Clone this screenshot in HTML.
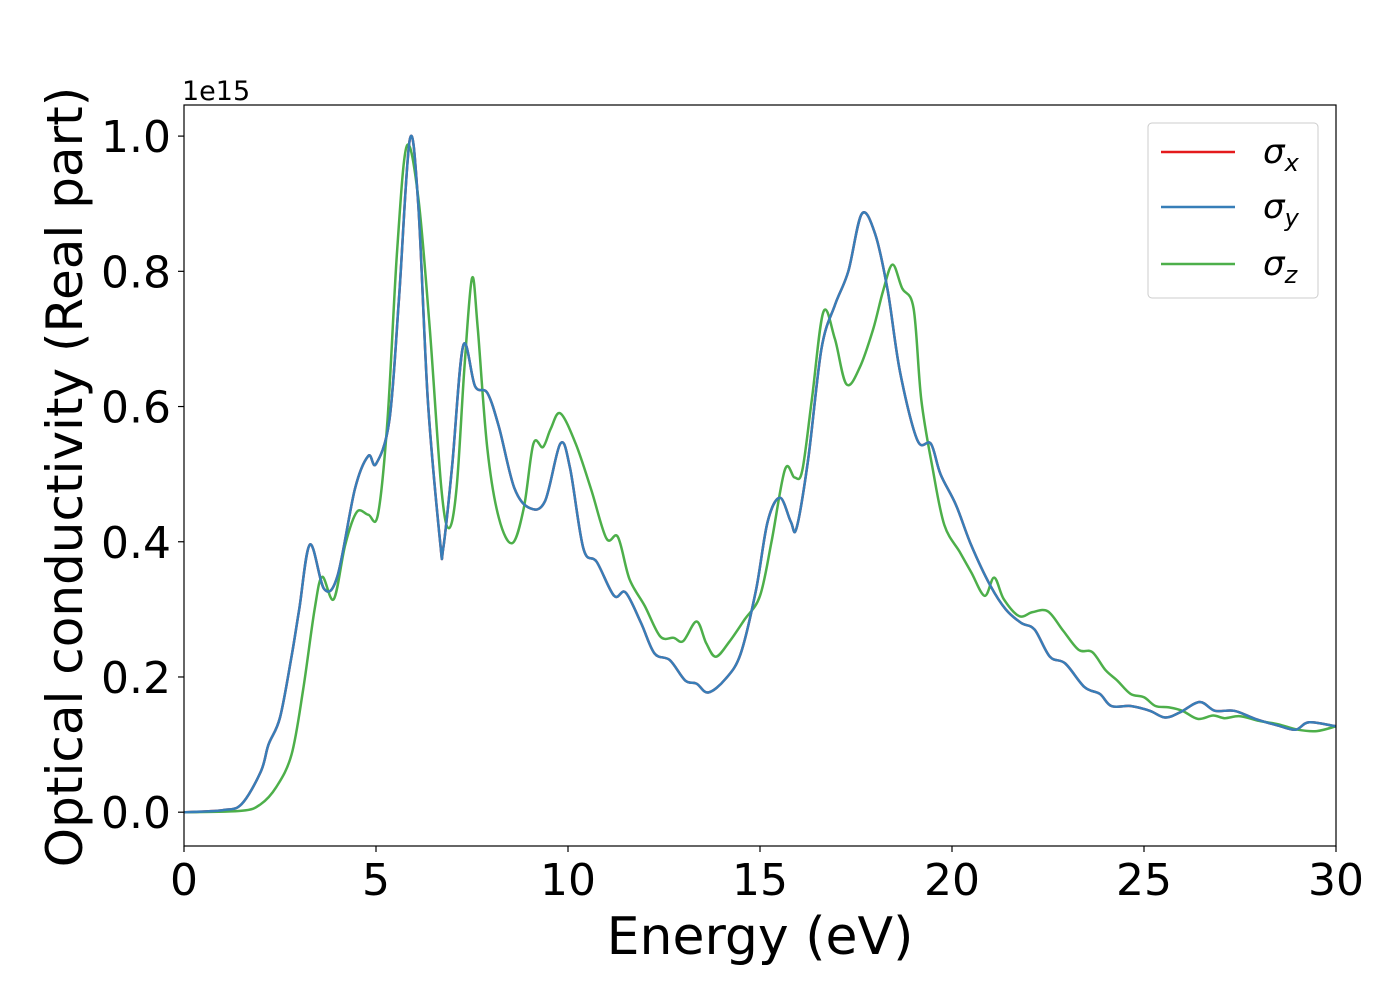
<!DOCTYPE html>
<html><head><meta charset="utf-8"><style>
html,body{margin:0;padding:0;background:#fff;}
svg{display:block;font-family:"DejaVu Sans","Liberation Sans",sans-serif;}
</style></head><body>
<svg id="chart" width="1400" height="1000" viewBox="0 0 1400 1000">
<rect x="0" y="0" width="1400" height="1000" fill="#fff"/>
<g id="plot"></g>
<g id="axes"></g>
<text x="182" y="100" font-size="27">1e15</text>
<text x="760" y="954" font-size="52" text-anchor="middle">Energy (eV)</text>
<text transform="translate(82,477) rotate(-90)" font-size="50" text-anchor="middle">Optical conductivity (Real part)</text>
<g>
<rect x="1148" y="123" width="170" height="175" rx="4" fill="#fff" stroke="#ccc" stroke-width="1"/>
<line x1="1161" y1="152" x2="1235" y2="152" stroke="#e41a1c" stroke-width="2.5"/>
<text x="1263" y="163" font-size="34" font-style="italic">σ<tspan font-size="24" dy="8">x</tspan></text>
<line x1="1161" y1="207" x2="1235" y2="207" stroke="#377eb8" stroke-width="2.5"/>
<text x="1263" y="218" font-size="34" font-style="italic">σ<tspan font-size="24" dy="8">y</tspan></text>
<line x1="1161" y1="264" x2="1235" y2="264" stroke="#4daf4a" stroke-width="2.5"/>
<text x="1263" y="275" font-size="34" font-style="italic">σ<tspan font-size="24" dy="8">z</tspan></text>
</g>
</svg>
<script>
const xTicks = [0,5,10,15,20,25,30];
const yTicks = [0.0,0.2,0.4,0.6,0.8,1.0];
const yTickLabels = ["0.0","0.2","0.4","0.6","0.8","1.0"];
const energyXY = [0,1,1.5,2,2.2,2.5,2.8,3.0,3.28,3.65,4.0,4.45,4.8,5.0,5.35,5.6,5.88,6.1,6.35,6.67,6.75,6.98,7.27,7.58,7.9,8.2,8.6,9.0,9.4,9.8,10.05,10.4,10.75,11.2,11.5,11.9,12.25,12.65,13.05,13.35,13.65,14.1,14.5,14.9,15.2,15.52,15.8,15.95,16.25,16.6,16.95,17.3,17.65,18.0,18.33,18.65,19.1,19.45,19.7,20.1,20.5,21.0,21.4,21.8,22.15,22.55,22.95,23.45,23.85,24.15,24.65,25.15,25.55,25.95,26.45,26.85,27.35,27.9,28.5,28.95,29.3,30];
const sigmaXY = [0,0.003,0.012,0.06,0.10,0.14,0.23,0.30,0.396,0.33,0.35,0.478,0.527,0.515,0.58,0.76,0.995,0.9,0.61,0.40,0.39,0.51,0.69,0.63,0.62,0.57,0.48,0.45,0.46,0.545,0.51,0.39,0.37,0.32,0.325,0.28,0.235,0.225,0.195,0.19,0.177,0.197,0.235,0.33,0.43,0.465,0.43,0.42,0.52,0.685,0.75,0.80,0.885,0.855,0.77,0.65,0.55,0.545,0.50,0.455,0.395,0.335,0.30,0.28,0.27,0.23,0.22,0.185,0.175,0.157,0.157,0.15,0.14,0.148,0.163,0.15,0.15,0.138,0.128,0.122,0.133,0.127];
const energyZ = [0,1.5,2,2.4,2.8,3.1,3.4,3.6,3.9,4.2,4.5,4.8,5.05,5.3,5.55,5.8,6.1,6.4,6.7,6.9,7.1,7.3,7.5,7.65,7.9,8.2,8.55,8.85,9.1,9.35,9.55,9.8,10.2,10.6,11.0,11.3,11.6,12.0,12.4,12.75,13.0,13.35,13.6,13.85,14.2,14.6,15.0,15.3,15.65,15.9,16.1,16.35,16.65,16.95,17.25,17.6,17.95,18.2,18.45,18.7,19.0,19.2,19.5,19.8,20.2,20.5,20.85,21.1,21.35,21.75,22.1,22.5,22.9,23.3,23.65,24.0,24.3,24.65,25.0,25.3,25.65,26.0,26.4,26.8,27.1,27.5,28.0,28.5,29.0,29.5,30];
const sigmaZ = [0,0.002,0.012,0.037,0.085,0.18,0.30,0.348,0.315,0.396,0.444,0.44,0.44,0.58,0.83,0.985,0.91,0.715,0.48,0.42,0.48,0.655,0.79,0.715,0.537,0.435,0.398,0.45,0.545,0.54,0.567,0.59,0.545,0.478,0.405,0.407,0.345,0.305,0.26,0.258,0.253,0.282,0.25,0.23,0.252,0.285,0.32,0.40,0.507,0.495,0.505,0.61,0.74,0.70,0.633,0.658,0.715,0.77,0.81,0.775,0.745,0.61,0.507,0.425,0.385,0.355,0.32,0.347,0.315,0.29,0.296,0.297,0.268,0.24,0.237,0.21,0.195,0.175,0.17,0.157,0.155,0.15,0.138,0.143,0.139,0.142,0.135,0.13,0.122,0.12,0.127];

const L=184,R=1336,T=105,B=846;
const xMin=0,xMax=30,yMin=-0.05,yMax=1.046;
function sx(v){return L+(v-xMin)/(xMax-xMin)*(R-L);}
function sy(v){return B-(v-yMin)/(yMax-yMin)*(B-T);}
const NS="http://www.w3.org/2000/svg";
function pathFor(xs,ys){
  const p=xs.map((x,i)=>[sx(x),sy(ys[i])]);
  let d="M"+p[0][0].toFixed(1)+","+p[0][1].toFixed(1);
  for(let i=0;i<p.length-1;i++){
    const p0=p[Math.max(0,i-1)],p1=p[i],p2=p[i+1],p3=p[Math.min(p.length-1,i+2)];
    const c1x=p1[0]+(p2[0]-p0[0])/6,c1y=p1[1]+(p2[1]-p0[1])/6;
    const c2x=p2[0]-(p3[0]-p1[0])/6,c2y=p2[1]-(p3[1]-p1[1])/6;
    d+=" C"+c1x.toFixed(1)+","+c1y.toFixed(1)+" "+c2x.toFixed(1)+","+c2y.toFixed(1)+" "+p2[0].toFixed(1)+","+p2[1].toFixed(1);
  }
  return d;
}
const plot=document.getElementById("plot");
const series=[["series-sigma-x",energyXY,sigmaXY,"#e41a1c"],["series-sigma-z",energyZ,sigmaZ,"#4daf4a"],["series-sigma-y",energyXY,sigmaXY,"#377eb8"]];
series.forEach(s=>{
  const el=document.createElementNS(NS,"path");
  el.setAttribute("d",pathFor(s[1],s[2]));
  el.setAttribute("fill","none");
  el.setAttribute("stroke",s[3]);
  el.setAttribute("stroke-width","2.5");
  el.setAttribute("stroke-linejoin","round");
  
  
  plot.appendChild(el);
});
const axes=document.getElementById("axes");
const frame=document.createElementNS(NS,"rect");
frame.setAttribute("x",L);frame.setAttribute("y",T);frame.setAttribute("width",R-L);frame.setAttribute("height",B-T);
frame.setAttribute("fill","none");frame.setAttribute("stroke","#000");frame.setAttribute("stroke-width","1.2");


axes.appendChild(frame);
xTicks.forEach(v=>{
  const t=document.createElementNS(NS,"line");
  t.setAttribute("x1",sx(v));t.setAttribute("x2",sx(v));t.setAttribute("y1",B);t.setAttribute("y2",B+6);
  t.setAttribute("stroke","#000");t.setAttribute("stroke-width","1.2");
  
  
  axes.appendChild(t);
  const tx=document.createElementNS(NS,"text");
  tx.setAttribute("x",sx(v));tx.setAttribute("y",B+49);tx.setAttribute("font-size","44");tx.setAttribute("text-anchor","middle");
  tx.textContent=String(v);
  
  
  axes.appendChild(tx);
});
yTicks.forEach((v,i)=>{
  const t=document.createElementNS(NS,"line");
  t.setAttribute("x1",L-6);t.setAttribute("x2",L);t.setAttribute("y1",sy(v));t.setAttribute("y2",sy(v));
  t.setAttribute("stroke","#000");t.setAttribute("stroke-width","1.2");
  
  
  axes.appendChild(t);
  const tx=document.createElementNS(NS,"text");
  tx.setAttribute("x",L-13);tx.setAttribute("y",sy(v)+16);tx.setAttribute("font-size","44");tx.setAttribute("text-anchor","end");
  tx.textContent=yTickLabels[i];
  
  
  axes.appendChild(tx);
});
</script>
</body></html>
